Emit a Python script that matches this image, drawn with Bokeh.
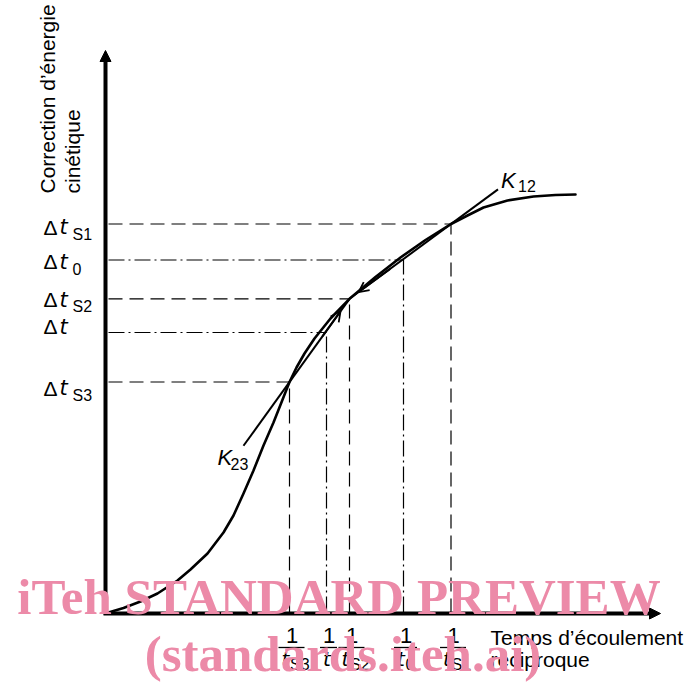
import math
from bokeh.plotting import figure
from bokeh.models import Range1d, Arrow, NormalHead, OpenHead, Label, ColumnDataSource
from bokeh.core.properties import value
from bokeh.embed import file_html
from bokeh.resources import INLINE

# ---------------- data ----------------
# calibration curve: kinetic-energy correction vs reciprocal flow time
curve_x = [0.00, 0.15, 0.32, 0.49, 0.69, 0.82, 0.99, 1.15, 1.25, 1.35, 1.45, 1.55,
           1.65, 1.81, 1.88, 1.96, 2.06, 2.22, 2.41, 2.67, 2.92, 3.17, 3.425, 3.59, 3.75,
           3.99, 4.25, 4.47, 4.67]
curve_y = [0.00, 0.045, 0.11, 0.19, 0.32, 0.43, 0.59, 0.80, 0.97, 1.19, 1.42, 1.67,
           1.90, 2.305, 2.45, 2.59, 2.74, 2.94, 3.137, 3.355, 3.55, 3.725, 3.885, 3.97, 4.05,
           4.12, 4.16, 4.175, 4.18]

# marked points, ordered along the reciprocal-time axis
point_subscripts = ["S3", "", "S2", "0", "S1"]
reciprocal_time = [1.81, 2.18, 2.41, 2.95, 3.425]
energy_correction = [2.305, 2.80, 3.137, 3.525, 3.885]
is_standard = [True, False, True, False, True]

# tangents (chords) between standards
tangent_names = ["K", "K"]
tangent_subs = ["23", "12"]

x_title = ["Temps d\u2019\u00e9coulement", "r\u00e9ciproque"]
y_title = ["Correction d\u2019\u00e9nergie", "cin\u00e9tique"]
watermark = ["iTeh STANDARD PREVIEW", "(standards.iteh.ai)"]

# ---------------- figure ----------------
FONT = "Liberation Sans"
W, H = 687, 685
X0, X1 = -1.08, 5.79
Y0, Y1 = -0.73, 6.12
PX = (X1 - X0) / W  # data units per pixel

p = figure(width=W, height=H, x_range=Range1d(X0, X1), y_range=Range1d(Y0, Y1),
           x_axis_type=None, y_axis_type=None, output_backend="svg",
           toolbar_location=None, min_border=0, outline_line_color=None,
           background_fill_color="white", border_fill_color="white")

# guide lines
for flag, dash in ((True, "14 7"), (False, "16 4 2 4")):
    xs = [x for x, f in zip(reciprocal_time, is_standard) if f == flag]
    ys = [y for y, f in zip(energy_correction, is_standard) if f == flag]
    zeros = [0.0] * len(xs)
    p.segment(x0=zeros, y0=ys, x1=xs, y1=ys, line_color="black", line_width=1.2, line_dash=dash)
    p.segment(x0=xs, y0=zeros, x1=xs, y1=ys, line_color="black", line_width=1.2, line_dash=dash)


def chord(ia, ib, ext_a, ext_b):
    xa, ya = reciprocal_time[ia], energy_correction[ia]
    xb, yb = reciprocal_time[ib], energy_correction[ib]
    m = (yb - ya) / (xb - xa)
    return [xa - ext_a, xb + ext_b], [ya - ext_a * m, yb + ext_b * m]


k23_x, k23_y = chord(0, 2, 0.46, 0.0)
k12_x, k12_y = chord(2, 4, 0.0, 0.47)
p.line(k23_x, k23_y, line_color="black", line_width=2)
p.line(k12_x, k12_y, line_color="black", line_width=2)

# curve
p.line(curve_x, curve_y, line_color="black", line_width=2.6, line_join="round", line_cap="round")


def along(ia, ib, f):
    xa, ya = reciprocal_time[ia], energy_correction[ia]
    xb, yb = reciprocal_time[ib], energy_correction[ib]
    return xa + f * (xb - xa), ya + f * (yb - ya)


# small arrowheads on the chords, both pointing at the S2 point
for ia, ib, f0, f1 in ((0, 2, 0.55, 0.85), (4, 2, 0.6, 0.91)):
    sx, sy = along(ia, ib, f0)
    ex, ey = along(ia, ib, f1)
    p.add_layout(Arrow(end=OpenHead(size=10, line_width=1.8, line_color="black"),
                       x_start=sx, y_start=sy, x_end=ex, y_end=ey,
                       line_width=2, line_color="black"))

# axes with arrowheads
p.add_layout(Arrow(end=NormalHead(size=11, fill_color="black", line_color="black", line_width=1),
                   x_start=-3 * PX, y_start=-2 * PX, x_end=-3 * PX, y_end=5.62,
                   line_width=4, line_color="black"))
p.add_layout(Arrow(end=NormalHead(size=11, fill_color="black", line_color="black", line_width=1),
                   x_start=-5 * PX, y_start=-1 * PX, x_end=5.52, y_end=-1 * PX,
                   line_width=4, line_color="black"))

# ---- y labels: Δt_sub ----
row_nudge = [4, -8, -1, -0.5, 1]
ysrc = ColumnDataSource(dict(
    x=[0.0] * 5, y=energy_correction, d=["\u0394"] * 5, t=["t"] * 5, sub=point_subscripts,
    yo=[2 + n for n in row_nudge], yos=[9 + n for n in row_nudge]))
p.text(x="x", y="y", text="d", source=ysrc, x_offset=-65, y_offset="yo",
       text_font=value(FONT), text_font_size="21px", text_baseline="middle",
       text_align="left", text_color="black")
p.text(x="x", y="y", text="t", source=ysrc, x_offset=-49, y_offset="yo",
       text_font=value("DejaVu Sans"), text_font_style="italic", text_font_size="21px",
       text_baseline="middle", text_align="left", text_color="black")
p.text(x="x", y="y", text="sub", source=ysrc, x_offset=-36, y_offset="yos",
       text_font=value(FONT), text_font_size="16px", text_baseline="middle",
       text_align="left", text_color="black")

# ---- x labels: 1 / t_sub ----
bar_half = [13, 8.5, 13, 11.5, 13]
xsrc = ColumnDataSource(dict(
    x=reciprocal_time, y=[0.0] * 5, one=["1"] * 5, t=["t"] * 5, sub=point_subscripts,
    bx=[x + 2 * PX for x in reciprocal_time], by=[-35 * PX] * 5,
    bw=[2 * h for h in bar_half],
    tx=[2 - h + 3 for h in bar_half], sx=[2 - h + 11.5 for h in bar_half]))
p.text(x="x", y="y", text="one", source=xsrc, x_offset=2.5, y_offset=23,
       text_font=value(FONT), text_font_size="22px", text_baseline="middle",
       text_align="center", text_color="black")
p.rect(x="bx", y="by", width="bw", height=1.3, width_units="screen", height_units="screen",
       source=xsrc, fill_color="black", line_color=None)
p.text(x="x", y="y", text="t", source=xsrc, x_offset="tx", y_offset=46.5,
       text_font=value("DejaVu Sans"), text_font_style="italic", text_font_size="20px",
       text_baseline="middle", text_align="left", text_color="black")
p.text(x="x", y="y", text="sub", source=xsrc, x_offset="sx", y_offset=51.5,
       text_font=value(FONT), text_font_size="16px", text_baseline="middle",
       text_align="left", text_color="black")

# ---- tangent labels ----
ksrc = ColumnDataSource(dict(
    x=[k23_x[0], k12_x[1]], y=[k23_y[0], k12_y[1]], k=tangent_names, sub=tangent_subs,
    kx=[-26, 3], ky=[11.5, -8.5], sx=[-13, 20], sy=[18.5, -3]))
p.text(x="x", y="y", text="k", source=ksrc, x_offset="kx", y_offset="ky",
       text_font=value(FONT), text_font_style="italic", text_font_size="22px",
       text_baseline="middle", text_align="left", text_color="black")
p.text(x="x", y="y", text="sub", source=ksrc, x_offset="sx", y_offset="sy",
       text_font=value(FONT), text_font_size="16px", text_baseline="middle",
       text_align="left", text_color="black")

# ---- axis titles ----
for i, txt in enumerate(y_title):
    p.add_layout(Label(x=(-61 + 25 * i) * PX, y=4.19, text=txt, angle=math.pi / 2,
                       text_align="left", text_baseline="middle", text_font=FONT,
                       text_font_size="21px", text_color="black"))
for i, txt in enumerate(x_title):
    p.add_layout(Label(x=3.82, y=(-25 - 21.5 * i) * PX, text=txt, text_align="left",
                       text_baseline="middle", text_font=FONT,
                       text_font_size="21px", text_color="black"))

# ---- watermark ----
for i, txt in enumerate(watermark):
    p.add_layout(Label(x=2.305 + 0.04 * i, y=(16 - 57 * i) * PX, text=txt,
                       text_align="center", text_baseline="middle",
                       text_font="Liberation Serif", text_font_style="bold",
                       text_font_size="51px", text_color="#EC8AA8"))

open("out.html", "w").write(file_html(p, INLINE))
